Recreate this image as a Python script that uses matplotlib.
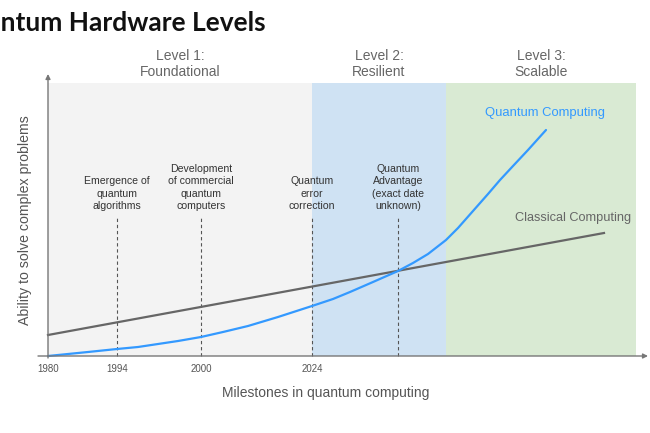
import matplotlib
matplotlib.use("Agg")
import matplotlib.pyplot as plt
from matplotlib.patches import Rectangle

plt.rcParams['font.family'] = ['Liberation Sans', 'DejaVu Sans']

# ---- data (schematic positions along the milestone axis) ----
levels = ["Level 1:\nFoundational", "Level 2:\nResilient", "Level 3:\nScalable"]
level_edges = [0, 264, 398, 588]
level_colors = ["#f3f3f3", "#cfe2f3", "#d9ead3"]
level_top = 273

milestone_pos = [69, 153, 264, 350]
milestone_labels = ["Emergence of\nquantum\nalgorithms",
                    "Development\nof commercial\nquantum\ncomputers",
                    "Quantum\nerror\ncorrection",
                    "Quantum\nAdvantage\n(exact date\nunknown)"]
milestone_height = 138

tick_pos = [0, 69, 153, 264]
tick_labels = ["1980", "1994", "2000", "2024"]

quantum_x = [0, 20, 40, 69, 90, 110, 130, 153, 175, 200, 230, 264, 285, 302, 325,
             350, 365, 380, 398, 410, 425, 440, 452, 465, 480, 498]
quantum_y = [0, 2, 4, 7, 9, 12, 15, 19, 24, 30, 39, 50, 57, 64, 74,
             85, 93, 102, 116, 128, 145, 162, 176, 190, 206, 226]

classical_x = [0, 556]
classical_y = [21, 123]

# ---- figure ----
fig = plt.figure(figsize=(6.5, 4.33), dpi=100)
ax = fig.add_axes([0, 0, 1, 1])
ax.set_xlim(-48, 602)
ax.set_ylim(-77, 356)
ax.axis('off')

for i, lab in enumerate(levels):
    x0, x1 = level_edges[i], level_edges[i + 1]
    ax.add_patch(Rectangle((x0, 0), x1 - x0, level_top, facecolor=level_colors[i],
                           edgecolor='none', zorder=0))
    ax.text((x0 + x1) / 2, level_top + 19, lab, ha='center', va='center',
            fontsize=10, color='#666666', linespacing=1.15)

for x, lab in zip(milestone_pos, milestone_labels):
    ax.plot([x, x], [0, milestone_height], ls=(0, (3, 2.5)), color='#555555', lw=0.8, zorder=2)
    ax.text(x, milestone_height + 7, lab, ha='center', va='bottom', fontsize=7.6,
            color='#333333', linespacing=1.3)

ax.plot(classical_x, classical_y, color='#666666', lw=1.6, zorder=3)
ax.plot(quantum_x, quantum_y, color='#3399ff', lw=1.6, zorder=4,
        solid_capstyle='round', solid_joinstyle='round')

ax.text(497, 243, "Quantum Computing", ha='center', va='center', fontsize=9.4, color='#3399ff')
ax.text(525, 138, "Classical Computing", ha='center', va='center', fontsize=9.2, color='#666666')

# axes with arrows
ax.annotate("", xy=(600, 0), xytext=(-10, 0),
            arrowprops=dict(arrowstyle='-|>', color='#777777', lw=1.0, mutation_scale=7,
                            shrinkA=0, shrinkB=0), zorder=5)
ax.annotate("", xy=(0, 282), xytext=(0, -2),
            arrowprops=dict(arrowstyle='-|>', color='#777777', lw=1.0, mutation_scale=7,
                            shrinkA=0, shrinkB=0), zorder=5)

for x, lab in zip(tick_pos, tick_labels):
    ax.text(x, -8, lab, ha='center', va='top', fontsize=7, color='#555555')

ax.text(278, -37, "Milestones in quantum computing", ha='center', va='center',
        fontsize=10, color='#555555')
ax.text(-23, 136, "Ability to solve complex problems", ha='center', va='center',
        rotation=90, fontsize=10.2, color='#555555')

fig.text(266 / 650, 1 - 22 / 433, "Quantum Hardware Levels", ha='right', va='center',
         fontsize=19, fontweight='bold', family=['Lato', 'DejaVu Sans'], color='#111111')

fig.savefig("out.png", dpi=100)
